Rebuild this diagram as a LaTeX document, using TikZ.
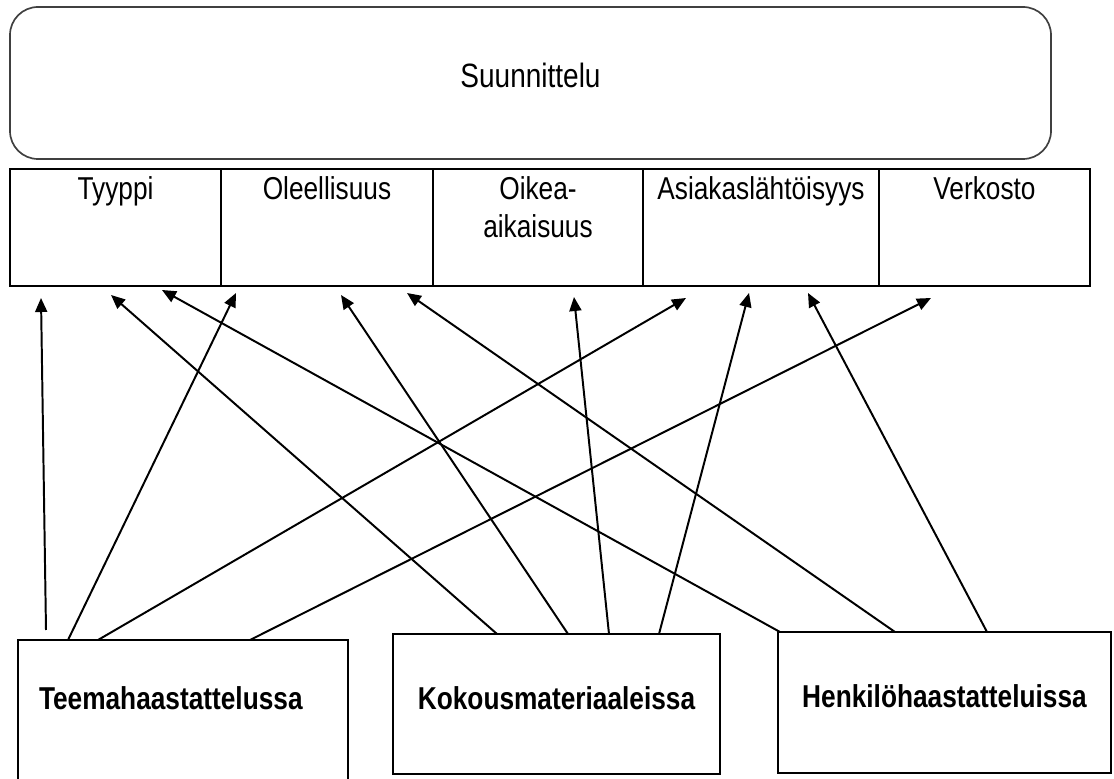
\documentclass[tikz,border=0pt]{standalone}
\usepackage{fontspec}
\setmainfont[FakeStretch=0.83]{Liberation Sans}
\usepackage{tikz}
\usetikzlibrary{positioning, calc, arrows.meta}

\begin{document}
\begin{tikzpicture}[
		plan/.style = {draw=black!75, line width=1.2pt, rounded corners=0.7cm, outer sep=0pt,
			minimum width=26.025cm, minimum height=3.8cm, text depth=0.4cm,
			font=\fontsize{24}{27}\selectfont},
		cell/.style = {draw, line width=1pt, outer sep=0pt, inner xsep=0pt, inner ysep=0pt,
			text height=0.775cm, text depth=2.15cm, align=center,
			font=\fontsize{22.5}{27}\selectfont},
		source/.style = {draw, line width=2.1pt, outer sep=0pt, anchor=north west,
			font=\fontsize{22.5}{27}\selectfont\bfseries},
		arr/.style = {-{Triangle[length=0.35cm, width=0.3cm]}, line width=1.4pt}
	]
			\useasboundingbox (0,0) rectangle (27.85,19.45);
			
			\node[plan] (suunn) at (13.2625,17.375) {Suunnittelu};
			
			\node[cell, text width=5.275cm, anchor=north west] (tyyppi) at (0.25,15.225) {Tyyppi};
			\node[cell, text width=5.3cm, right=0pt of tyyppi] (oleell) {Oleellisuus};
			\node[cell, text width=5.25cm, right=0pt of oleell] (oikea) {Oikea-\\aikaisuus};
			\node[cell, text width=5.9cm, right=0pt of oikea] (asiakas) {Asiakaslähtöisyys};
			\node[cell, text width=5.275cm, right=0pt of asiakas] (verkosto) {Verkosto};
			
			\node[source, inner xsep=0.525cm, inner ysep=0pt, text width=7.2cm, align=left,
				text height=1.74cm, text depth=2cm] (teema) at (0.45,3.45) {Teemahaastattelussa};
			\node[source, minimum width=8.175cm, minimum height=3.5cm, text depth=0.3cm]
				(kokous) at (9.825,3.6) {Kokousmateriaaleissa};
			\node[source, minimum width=8.325cm, minimum height=3.525cm, text depth=0.3cm]
				(henkilo) at (19.45,3.65) {Henkilöhaastatteluissa};
			
			\draw[arr] ($(teema.north west)+(0.7,0.25)$) -- ($(tyyppi.south west)+(0.775,-0.3)$);
			\draw[arr] ($(teema.north west)+(1.25,0)$) -- ($(oleell.south west)+(0.375,-0.175)$);
			\draw[arr] ($(teema.north west)+(2,0)$) -- ($(asiakas.south west)+(1.075,-0.3)$);
			\draw[arr] ($(teema.north west)+(5.8,0)$) -- ($(verkosto.south west)+(1.3,-0.3)$);
			
			\draw[arr] ($(kokous.north west)+(2.6,0)$) -- ($(tyyppi.south west)+(2.525,-0.225)$);
			\draw[arr] ($(kokous.north west)+(4.375,0)$) -- ($(oleell.south west)+(3,-0.225)$);
			\draw[arr] ($(kokous.north west)+(5.4,0)$) -- ($(oikea.south west)+(3.525,-0.275)$);
			\draw[arr] ($(kokous.north west)+(6.65,0)$) -- ($(asiakas.south west)+(2.65,-0.175)$);
			
			\draw[arr] ($(henkilo.north west)+(0.05,0)$) -- ($(tyyppi.south west)+(3.8,-0.1)$);
			\draw[arr] ($(henkilo.north west)+(2.925,0)$) -- ($(oleell.south west)+(4.65,-0.175)$);
			\draw[arr] ($(henkilo.north west)+(5.225,0)$) -- ($(asiakas.south west)+(4.125,-0.175)$);
		\end{tikzpicture}
\end{document}
